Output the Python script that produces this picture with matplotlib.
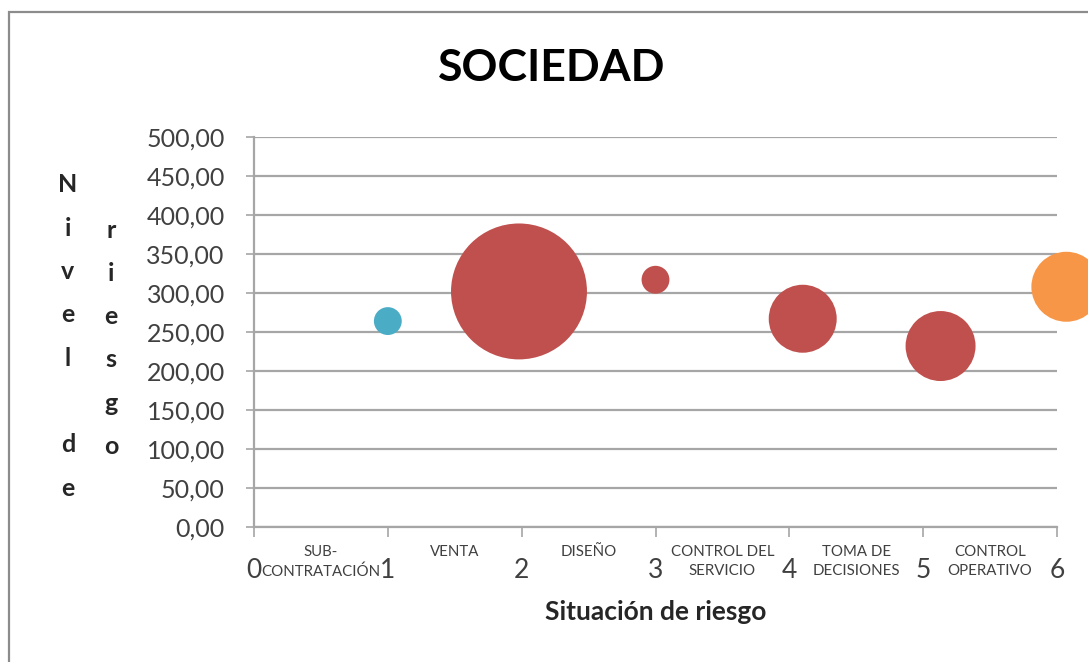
import matplotlib
matplotlib.use("Agg")
import matplotlib.pyplot as plt
from matplotlib.patches import Rectangle

plt.rcParams["font.family"] = ["Lato", "DejaVu Sans"]

# data
situacion = [1.0, 1.98, 3.0, 4.1, 5.13, 6.07]
nivel_riesgo = [264, 302, 317, 267, 232, 308]
bubble_size = [4.2, 100, 4.2, 25, 26.5, 26.5]
bubble_colors = ["#4BACC6", "#C0504D", "#C0504D", "#C0504D", "#C0504D", "#F79646"]

categorias = [
    "SUB-\nCONTRATACIÓN",
    "VENTA",
    "DISEÑO",
    "CONTROL DEL\nSERVICIO",
    "TOMA DE\nDECISIONES",
    "CONTROL\nOPERATIVO",
]
y_ticks = [0, 50, 100, 150, 200, 250, 300, 350, 400, 450, 500]
x_ticks = [0, 1, 2, 3, 4, 5, 6]

W, H = 1088, 662
fig = plt.figure(figsize=(W / 100, H / 100), dpi=100)

# chart area border
fig.patches.append(
    Rectangle(
        (9 / W, -0.1), 1.2, (H - 12) / H + 0.1,
        transform=fig.transFigure,
        fill=False,
        edgecolor="#8C8C8C",
        linewidth=1.6
    )
)

ax = fig.add_axes([254 / W, 1 - 527 / H, (1057 - 254) / W, 390 / H])

ax.scatter(
    situacion,
    nivel_riesgo,
    s=[v * 95.8 for v in bubble_size],
    c=bubble_colors,
    linewidths=0,
    clip_on=False,
    zorder=3
)

ax.set_xlim(0, 6)
ax.set_ylim(0, 500)

ax.set_yticks(y_ticks)
ax.set_yticklabels([f"{v:.2f}".replace(".", ",") for v in y_ticks])
ax.set_xticks(x_ticks)
ax.set_xticklabels([str(v) for v in x_ticks])

ax.tick_params(
    axis="y", length=6, width=1.2, color="#A6A6A6",
    pad=15, labelsize=18, labelcolor="#404040"
)
ax.tick_params(
    axis="x", length=7, width=1.2, color="#A6A6A6",
    pad=15, labelsize=19, labelcolor="#404040"
)

ax.grid(axis="y", color="#A6A6A6", linewidth=1.6)
ax.set_axisbelow(True)

for side in ["top", "right"]:
    ax.spines[side].set_visible(False)
for side in ["left", "bottom"]:
    ax.spines[side].set_color("#A6A6A6")
    ax.spines[side].set_linewidth(1.6)

for i, label in enumerate(categorias):
    ax.text(
        i + 0.5, -0.047, label,
        transform=ax.get_xaxis_transform(),
        ha="center", va="top",
        fontsize=10.8, color="#404040",
        linespacing=1.45
    )

fig.text(
    552 / W, 1 - 68 / H, "SOCIEDAD",
    ha="center", va="center",
    fontsize=32, fontweight="bold", color="black"
)

fig.text(
    656 / W, 1 - 612 / H, "Situación de riesgo",
    ha="center", va="center",
    fontsize=19, fontweight="bold", color="#262626"
)

# stacked y axis title
step = 43.3
for col_x, top, word in [(68, 185, "Nivel de"), (111, 230, "riesgo")]:
    for k, ch in enumerate(word):
        fig.text(
            col_x / W, 1 - (top + k * step) / H, ch,
            ha="center", va="center",
            fontsize=18, fontweight="bold", color="#262626"
        )

fig.savefig("out.png", dpi=100)
plt.close(fig)
